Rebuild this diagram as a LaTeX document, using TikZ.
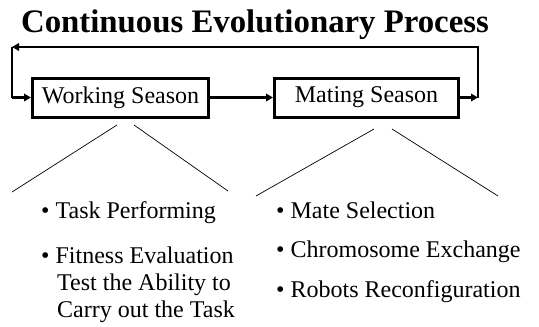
\documentclass[tikz,border=0pt]{standalone}
\usepackage{fontspec}
\setmainfont{Liberation Serif}
\usetikzlibrary{arrows.meta}
\begin{document}
\begin{tikzpicture}[x=1pt,y=-1pt,
  season/.style={draw,line width=3pt,minimum width=#1,minimum height=39pt,inner sep=0pt,font=\fontsize{24}{26}\selectfont},
  conn/.style={line width=2.2pt,-{Triangle[length=7pt,width=7.5pt]}},
  plain/.style={line width=2.2pt},
  branch/.style={line width=0.7pt},
  item/.style={anchor=base west,inner sep=0pt,font=\fontsize{24}{26}\selectfont}]
\useasboundingbox (0,0) rectangle (539,327);
\node[anchor=base,inner sep=0pt,font=\fontsize{32.8}{36}\bfseries] (title) at (255,32) {Continuous Evolutionary Process};
\node[season=176pt] (ws) at (120.5,97.5) {\raisebox{1.5pt}{Working Season}};
\node[season=184pt] (ms) at (366.5,97.5) {\raisebox{1.5pt}{Mating Season}};
\coordinate (r) at (478,97.5);
\coordinate (rt) at (478,47);
\coordinate (lt) at (12,47);
\coordinate (l) at (12,97.5);
\draw[conn] (ws) -- (ms);
\draw[conn] (ms) -- (r);
\draw[conn] (r) -- (rt) -- (lt);
\draw[plain] (lt) -- (l);
\draw[conn] (l) -- (ws);
% branches
\coordinate (a1) at (117,125); \coordinate (a2) at (12,192);
\coordinate (b1) at (134,125); \coordinate (b2) at (228,191);
\coordinate (c1) at (374,129); \coordinate (c2) at (256,196);
\coordinate (d1) at (392,129); \coordinate (d2) at (498,196);
\draw[branch] (a1) -- (a2);
\draw[branch] (b1) -- (b2);
\draw[branch] (c1) -- (c2);
\draw[branch] (d1) -- (d2);
\node[item] (t1) at (41,218) {• Task Performing};
\node[item] (t2) at (41,263) {• Fitness Evaluation};
\node[item] (t3) at (57,290) {Test the Ability to};
\node[item] (t4) at (57,317) {Carry out the Task};
\node[item] (m1) at (276,218) {• Mate Selection};
\node[item] (m2) at (276,257) {• Chromosome Exchange};
\node[item] (m3) at (276,297) {• Robots Reconfiguration};
\end{tikzpicture}
\end{document}
